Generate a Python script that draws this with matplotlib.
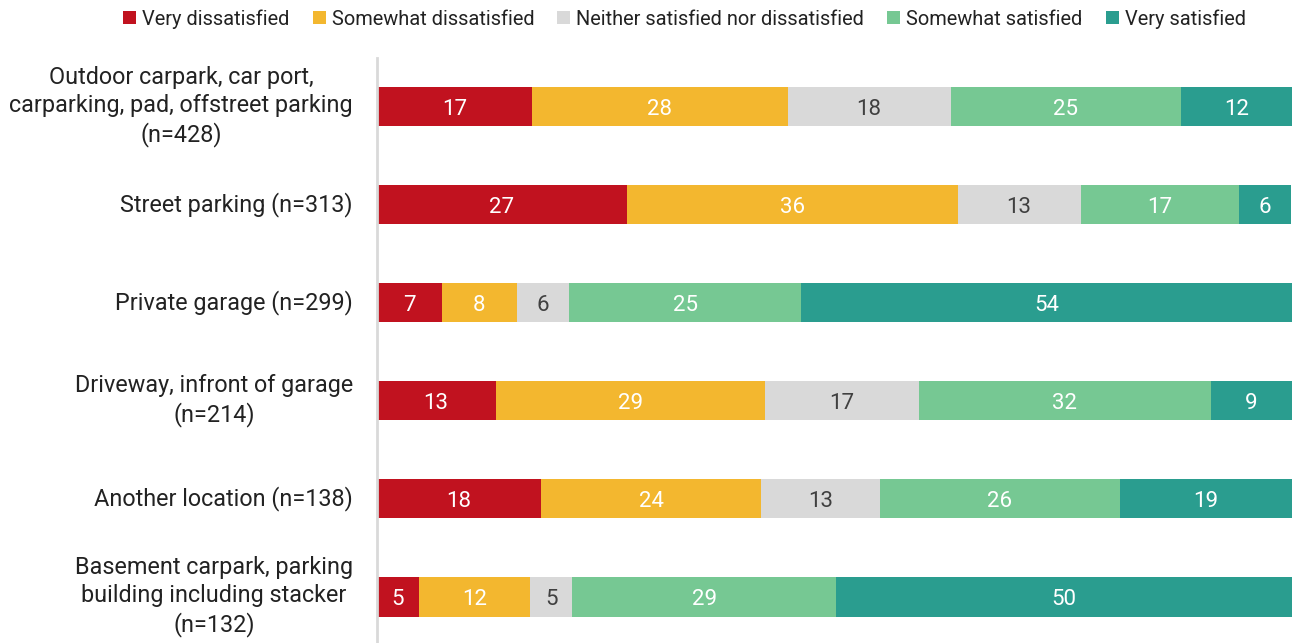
import matplotlib
matplotlib.use("Agg")
import matplotlib.pyplot as plt
from matplotlib.patches import Patch

plt.rcParams['font.family'] = ['Roboto', 'DejaVu Sans']

categories = [
    "Outdoor carpark, car port,\ncarparking, pad, offstreet parking\n(n=428)",
    "Street parking (n=313)",
    "Private garage (n=299)",
    "Driveway, infront of garage\n(n=214)",
    "Another location (n=138)",
    "Basement carpark, parking\nbuilding including stacker\n(n=132)",
]
series_names = ["Very dissatisfied", "Somewhat dissatisfied",
                "Neither satisfied nor dissatisfied", "Somewhat satisfied",
                "Very satisfied"]
very_dissatisfied = [17.0, 27.4, 7.2, 13.0, 18.0, 4.6]
somewhat_dissatisfied = [27.9, 36.1, 8.1, 29.4, 24.0, 12.2]
neither = [17.8, 13.4, 5.7, 16.9, 13.0, 4.6]
somewhat_satisfied = [25.2, 17.3, 25.4, 31.8, 26.2, 28.8]
very_satisfied = [12.1, 5.7, 53.6, 8.9, 18.8, 49.8]

series = [very_dissatisfied, somewhat_dissatisfied, neither,
          somewhat_satisfied, very_satisfied]
colors = ["#C1121F", "#F3B72F", "#D9D9D9", "#76C893", "#2A9D8F"]
text_colors = ["white", "white", "#404040", "white", "white"]

fig = plt.figure(figsize=(12.94, 6.43), dpi=100)
ax = fig.add_axes([376.5 / 1294, 0.0, (1292 - 376.5) / 1294, 1 - 58 / 643])

ypos = list(range(len(categories)))
left = [0.0] * len(categories)
for vals, col, tcol in zip(series, colors, text_colors):
    ax.barh(ypos, vals, left=left, height=0.4, color=col, linewidth=0)
    for y, l, v in zip(ypos, left, vals):
        ax.text(l + v / 2, y + 0.03, f"{v:.0f}", ha="center", va="center",
                color=tcol, fontsize=16, fontweight="normal")
    left = [a + b for a, b in zip(left, vals)]

ax.set_xlim(0, 100)
ax.set_ylim(5.47, -0.495)
ax.set_yticks(ypos)
ax.set_yticklabels(categories, fontsize=16.8, color="#222222",
                   multialignment="center", linespacing=1.27, va="center")
ax.tick_params(axis="y", length=0, pad=17)
ax.set_xticks([])
for s in ["top", "right", "bottom"]:
    ax.spines[s].set_visible(False)
ax.spines["left"].set_color("#D9D9D9")
ax.spines["left"].set_linewidth(2)

handles = [Patch(facecolor=c, label=n) for c, n in zip(colors, series_names)]
fig.legend(handles=handles, loc="center", bbox_to_anchor=(684.5 / 1294, 1 - 19 / 643),
           ncol=5, frameon=False, fontsize=14.4, handlelength=0.65, handleheight=0.65,
           handletextpad=0.3, columnspacing=1.15, labelcolor="#222222")

fig.savefig("out.png", dpi=100)
